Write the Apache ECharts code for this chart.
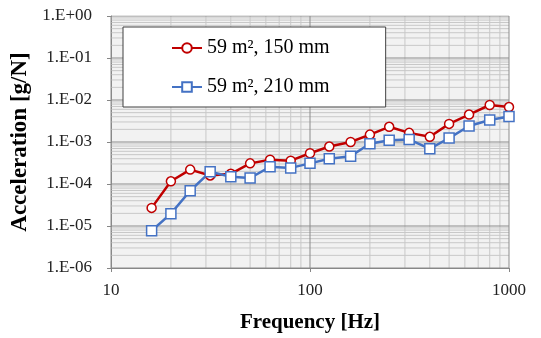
<!DOCTYPE html>
<html>
<head>
<meta charset="utf-8">
<script src="https://cdn.jsdelivr.net/npm/echarts@6/dist/echarts.min.js"></script>
<style>
  html, body { margin: 0; padding: 0; background: #fff; }
  #chart { width: 541px; height: 338px; }
</style>
</head>
<body>
<div id="chart"></div>
<script>
// 1/3 octave band centre frequencies [Hz]
const freqs = [16, 20, 25, 31.5, 40, 50, 63, 80, 100, 125, 160, 200, 250, 315, 400, 500, 630, 800, 1000];
const acc150 = [2.7e-5, 1.16e-4, 2.2e-4, 1.6e-4, 1.75e-4, 3.1e-4, 3.8e-4, 3.6e-4, 5.4e-4, 7.8e-4, 1.0e-3,
  1.5e-3, 2.3e-3, 1.65e-3, 1.33e-3, 2.7e-3, 4.5e-3, 7.6e-3, 6.8e-3];
const acc210 = [7.7e-6, 1.97e-5, 6.9e-5, 1.95e-4, 1.49e-4, 1.39e-4, 2.56e-4, 2.42e-4, 3.1e-4, 4.0e-4, 4.6e-4,
  9.1e-4, 1.1e-3, 1.15e-3, 6.9e-4, 1.24e-3, 2.41e-3, 3.33e-3, 4.06e-3];
const seriesNames = ['59 m², 150 mm', '59 m², 210 mm'];
const yDecades = [1e-6, 1e-5, 1e-4, 1e-3, 1e-2, 1e-1, 1];
const xDecades = [10, 100, 1000];

const FONT = '"Liberation Serif", "Times New Roman", serif';
const MINOR = '#c8c8c8';
const MAJOR = '#8c8c8c';

const X0 = xDecades[0], X1 = xDecades[xDecades.length - 1];
const Y0 = yDecades[0], Y1 = yDecades[yDecades.length - 1];

// log grid: 2..9 inside each decade (light), decades on top (darker)
const gridSeries = [];
function hLine(v, color) {
  gridSeries.push({ type: 'line', silent: true, z: 1, symbol: 'none', animation: false,
    lineStyle: { color, width: 1 }, data: [[X0, v], [X1, v]] });
}
function vLine(v, color) {
  gridSeries.push({ type: 'line', silent: true, z: 1, symbol: 'none', animation: false,
    lineStyle: { color, width: 1 }, data: [[v, Y0], [v, Y1]] });
}
yDecades.slice(0, -1).forEach((d) => { for (let k = 2; k <= 9; k++) hLine(d * k, MINOR); });
xDecades.slice(0, -1).forEach((d) => { for (let k = 2; k <= 9; k++) vLine(d * k, MINOR); });
yDecades.forEach((d) => hLine(d, MAJOR));
xDecades.forEach((d) => vLine(d, MAJOR));

function expLabel(v) {
  const e = Math.round(Math.log10(v));
  const s = e < 0 ? '-' : '+';
  return '1.E' + s + String(Math.abs(e)).padStart(2, '0');
}

const chart = echarts.init(document.getElementById('chart'), null, { renderer: 'canvas' });
chart.setOption({
  animation: false,
  backgroundColor: '#fff',
  grid: {
    left: 111, right: 32, top: 16, bottom: 65,
    show: true, backgroundColor: '#f2f2f2', borderWidth: 0
  },
  legend: {
    data: seriesNames,
    orient: 'vertical',
    left: 123, top: 27,
    padding: [10, 56, 9, 48],
    itemGap: 17,
    itemWidth: 30,
    itemHeight: 12,
    backgroundColor: '#fff',
    borderColor: '#404040',
    borderWidth: 1,
    z: 10,
    textStyle: { fontFamily: FONT, fontSize: 20, color: '#000', lineHeight: 22 }
  },
  xAxis: {
    type: 'log',
    logBase: 10,
    min: X0,
    max: X1,
    name: 'Frequency [Hz]',
    nameLocation: 'middle',
    nameGap: 44,
    nameTextStyle: { fontFamily: FONT, fontSize: 21, fontWeight: 'bold', color: '#000' },
    axisLine: { show: true, lineStyle: { color: '#868686' } },
    axisTick: { show: true, length: 4, lineStyle: { color: '#868686' } },
    axisLabel: { fontFamily: FONT, fontSize: 17, color: '#222', margin: 14, formatter: (v) => String(v) },
    splitLine: { show: false }
  },
  yAxis: {
    type: 'log',
    logBase: 10,
    min: Y0,
    max: Y1,
    name: 'Acceleration [g/N]',
    nameLocation: 'middle',
    nameGap: 78,
    nameTextStyle: { fontFamily: FONT, fontSize: 23, fontWeight: 'bold', color: '#000' },
    axisLine: { show: true, lineStyle: { color: '#868686' } },
    axisTick: { show: true, length: 4, lineStyle: { color: '#868686' } },
    axisLabel: { fontFamily: FONT, fontSize: 17, color: '#222', margin: 19, formatter: expLabel },
    splitLine: { show: false }
  },
  series: gridSeries.concat([
    {
      name: seriesNames[0],
      type: 'line',
      z: 3,
      data: freqs.map((f, i) => [f, acc150[i]]),
      symbol: 'circle',
      symbolSize: 9,
      lineStyle: { color: '#c00000', width: 2.5 },
      itemStyle: { color: '#fff', borderColor: '#c00000', borderWidth: 1.5 }
    },
    {
      name: seriesNames[1],
      type: 'line',
      z: 3,
      data: freqs.map((f, i) => [f, acc210[i]]),
      symbol: 'rect',
      symbolSize: 10,
      lineStyle: { color: '#4472c4', width: 2.5 },
      itemStyle: { color: '#fff', borderColor: '#4472c4', borderWidth: 1.5 }
    }
  ])
});
</script>
</body>
</html>
